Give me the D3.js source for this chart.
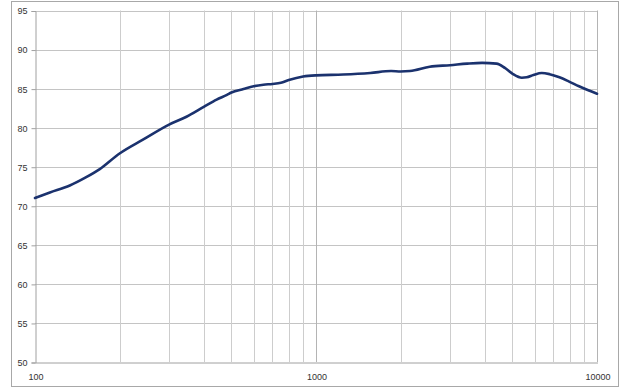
<!DOCTYPE html>
<html>
<head>
<meta charset="utf-8">
<script src="https://cdn.jsdelivr.net/npm/d3@7"></script>
<style>
  html, body { margin: 0; padding: 0; background: #fff; }
  svg { display: block; }
  text { font-family: "Liberation Sans", Arial, sans-serif; font-size: 9px; fill: #333; }
</style>
</head>
<body>
<svg id="chart" width="620" height="388"></svg>
<script>
// Frequency response: frequency (Hz) and sound pressure level (dB)
const freqHz = [100, 113, 133, 151, 170, 200, 243, 300, 346, 400, 443, 482, 500, 552, 600, 650, 700, 750, 800, 900,
  1000, 1250, 1560, 1850, 2000, 2160, 2540, 3000, 3450, 3900, 4390, 4700, 5010, 5400, 5620, 5940, 6360, 6780,
  7350, 7960, 8630, 9360, 10000];
const splDb = [71.0, 71.7, 72.6, 73.6, 74.7, 76.7, 78.5, 80.4, 81.4, 82.7, 83.6, 84.2, 84.5, 84.95, 85.3, 85.5, 85.6, 85.75, 86.1, 86.55,
  86.7, 86.8, 87.0, 87.25, 87.2, 87.25, 87.8, 88.0, 88.2, 88.3, 88.2, 87.65, 86.9, 86.4, 86.45, 86.75, 87.0, 86.85,
  86.45, 85.9, 85.3, 84.75, 84.35];

const yTicks = [50, 55, 60, 65, 70, 75, 80, 85, 90, 95];
const xLabels = [100, 1000, 10000];
const xMinor = [200, 300, 400, 500, 600, 700, 800, 900, 2000, 3000, 4000, 5000, 6000, 7000, 8000, 9000];

const svg = d3.select("#chart");
const plot = { left: 35, right: 597, top: 10.5, bottom: 362 };

// Outer frame
svg.append("rect")
  .attr("x", 11.5).attr("y", 1.5)
  .attr("width", 607).attr("height", 385)
  .attr("fill", "none").attr("stroke", "#a8a8a8").attr("stroke-width", 1);

const x = d3.scaleLog().domain([100, 10000]).range([plot.left, plot.right]);
const y = d3.scaleLinear().domain([50, 95]).range([plot.bottom, plot.top]);

// Horizontal grid lines
svg.append("g").selectAll("line").data(yTicks.filter(v => v > 50)).join("line")
  .attr("x1", plot.left).attr("x2", plot.right)
  .attr("y1", d => Math.round(y(d)) + 0.5).attr("y2", d => Math.round(y(d)) + 0.5)
  .attr("stroke", "#c4c4c4").attr("stroke-width", 1);

// Vertical grid lines (minor and decade)
svg.append("g").selectAll("line").data(xMinor).join("line")
  .attr("x1", d => Math.round(x(d)) + 0.5).attr("x2", d => Math.round(x(d)) + 0.5)
  .attr("y1", plot.top).attr("y2", plot.bottom)
  .attr("stroke", "#cdcdcd").attr("stroke-width", 1);
svg.append("g").selectAll("line").data([1000, 10000]).join("line")
  .attr("x1", d => Math.round(x(d)) + 0.5).attr("x2", d => Math.round(x(d)) + 0.5)
  .attr("y1", plot.top).attr("y2", plot.bottom)
  .attr("stroke", "#b4b4b4").attr("stroke-width", 1);

// Y axis with outward ticks
const yAxis = d3.axisLeft(y).tickValues(yTicks).tickSize(4).tickPadding(4).tickFormat(d3.format("d"));
const gy = svg.append("g").attr("transform", `translate(${plot.left + 0.5},0.5)`).call(yAxis);
gy.select(".domain").attr("stroke", "#a0a0a0");
gy.selectAll(".tick line").attr("stroke", "#a0a0a0");
gy.selectAll("text").attr("fill", "#333").style("font-family", "'Liberation Sans', Arial, sans-serif").style("font-size", "9px");

// X axis, labels on decades only
const xAxis = d3.axisBottom(x).tickValues(xLabels).tickSize(0).tickPadding(11).tickFormat(d3.format("d"));
const gx = svg.append("g").attr("transform", `translate(0.5,${plot.bottom + 0.5})`).call(xAxis);
gx.select(".domain").attr("stroke", "#a0a0a0");
gx.selectAll("text").attr("fill", "#333").style("font-family", "'Liberation Sans', Arial, sans-serif").style("font-size", "9px");

// Response curve
const line = d3.line()
  .x((d, i) => x(freqHz[i]))
  .y(d => y(d))
  .curve(d3.curveMonotoneX);

svg.append("path")
  .datum(splDb)
  .attr("d", line)
  .attr("fill", "none")
  .attr("stroke", "#1b326e")
  .attr("stroke-width", 2.6)
  .attr("stroke-linejoin", "round")
  .attr("stroke-linecap", "round");
</script>
</body>
</html>
